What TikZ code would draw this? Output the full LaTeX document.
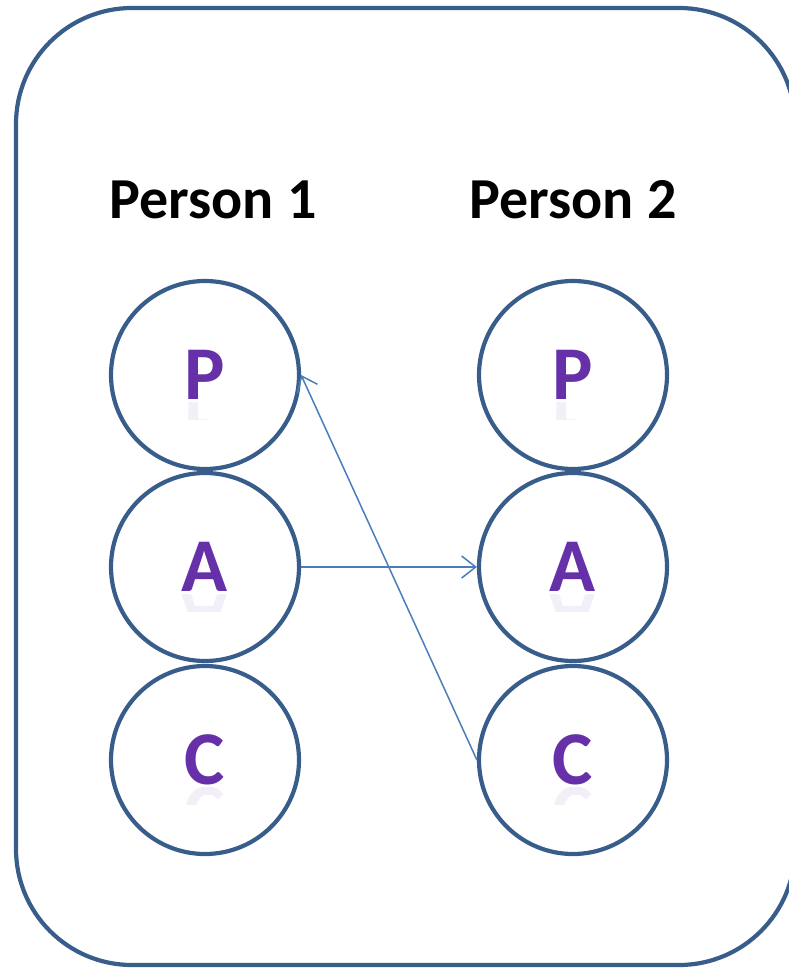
\documentclass[tikz,border=0pt]{standalone}
\usepackage{fontspec}
\setmainfont{Carlito}
\usetikzlibrary{arrows.meta}
\definecolor{edgeblue}{HTML}{385D8A}
\definecolor{arrowblue}{HTML}{4A7EBB}
\definecolor{letterpurple}{HTML}{6630A8}
\tikzset{
  ring/.style={circle, draw=edgeblue, line width=4.2pt, minimum size=188pt, inner sep=0pt,
    font=\bfseries\fontsize{76}{76}\selectfont, text=letterpurple},
  heading/.style={font=\bfseries\fontsize{58}{58}\selectfont, text=black},
  link/.style={draw=arrowblue, line width=1.5pt, -{Straight Barb[length=14pt,width=22pt,line width=1.5pt]}},
  refl/.style={font=\bfseries\fontsize{76}{76}\selectfont, text=letterpurple, opacity=0.08, yscale=-1, inner sep=0pt}
}
\begin{document}
\begin{tikzpicture}[x=1pt,y=-1pt]
\useasboundingbox (0,0) rectangle (788,968);
\draw[edgeblue, line width=4.2pt, rounded corners=116pt] (16,8) rectangle (795,965);

\node[heading] (h1) at (213,200) {Person 1};
\node[heading] (h2) at (573,200) {Person 2};

\node[ring] (p1) at (205,375) {P};
\node[ring] (a1) at (205,567) {A};
\node[ring] (c1) at (205,760) {C};
\node[ring] (p2) at (573,375) {P};
\node[ring] (a2) at (573,567) {A};
\node[ring] (c2) at (573,760) {C};

% reflections
\foreach \cx/\cy/\l in {205/375/P, 205/567/A, 205/760/C, 573/375/P, 573/567/A, 573/760/C}{
  \begin{scope}
    \clip (\cx-40,\cy+27) rectangle (\cx+40,\cy+44);
    \node[refl, anchor=base] at (\cx,\cy+27) {\l};
  \end{scope}
}

\draw[link] (a1.east) -- (a2.west);
\draw[link] (c2.west) -- (p1.east);
\end{tikzpicture}
\end{document}
